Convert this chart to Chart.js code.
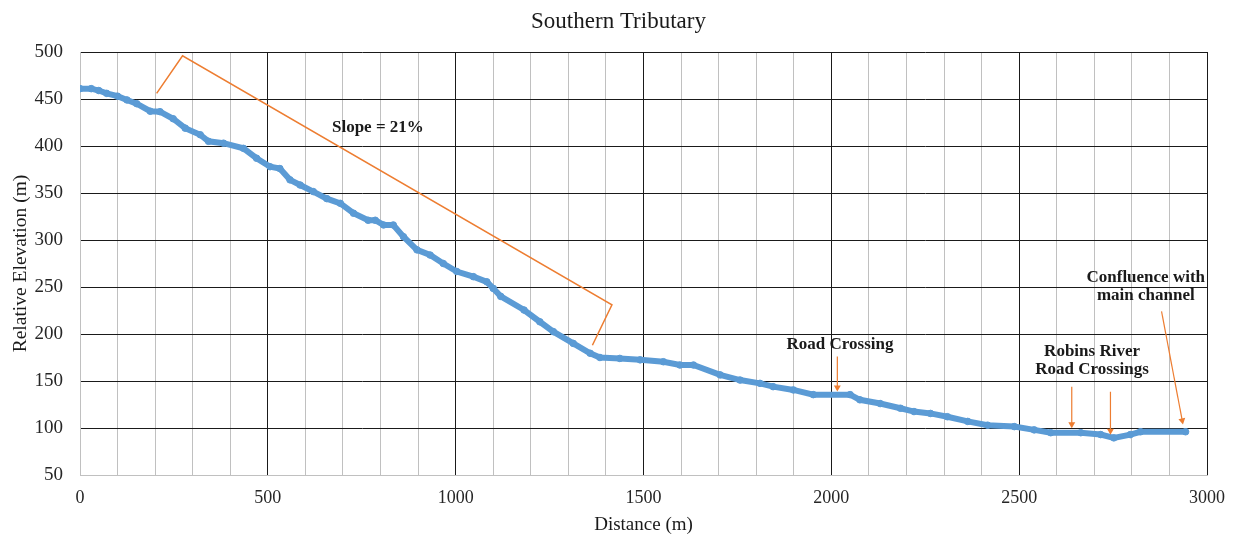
<!DOCTYPE html>
<html><head><meta charset="utf-8">
<script src="https://cdn.jsdelivr.net/npm/chart.js@4"></script>
<style>html,body{margin:0;padding:0;background:#fff}#wrap{width:1237px;height:537px}</style>
</head><body><div id="wrap"><canvas id="c" width="1237" height="537"></canvas></div>
<script>
// Profile data (distance m, relative elevation m)
const distance = [0,30,50,71,100,125,151,187,213,248,280,320,342,382,435,470,506,532,559,586,621,657,693,728,767,786,808,834,861,897,932,967,1003,1047,1083,1100,1120,1182,1224,1260,1313,1358,1384,1437,1491,1553,1597,1633,1704,1757,1810,1845,1899,1952,2050,2076,2130,2184,2220,2264,2309,2363,2416,2487,2540,2584,2664,2717,2752,2796,2823,2943];
const elevation = [461,461,459,456,453,449,445,437,436.5,429,419,412,405,403,397.5,387,378,376,364,358.5,351.5,344,339,328.5,321,321,316,316,303.5,289.5,284,275,266.5,261,255.5,248.5,240,225.5,213,202.5,190,179.5,175,174,172.5,170.5,167,167,156.5,151,147.5,144,140.5,135.5,135.5,130,126,121,117.5,115.5,112,107,103,101.5,98,95,95,93,89.5,93,96,96];

// Annotation geometry in data units
const slopeBracketX = [204,273,1416,1364];
const slopeBracketY = [456,496,231,188];
const arrowRoadX = [2016,2016];   const arrowRoadY = [176,143];
const arrowRobins1X = [2640,2640]; const arrowRobins1Y = [144,104];
const arrowRobins2X = [2743,2743]; const arrowRobins2Y = [138.5,97];
const arrowConflX = [2879,2934];  const arrowConflY = [224,108];

const labelTexts = ["Slope = 21%","Road Crossing","Robins River","Road Crossings","Confluence with","main channel"];
const labelX = [793,2023,2694,2694,2837,2837];
const labelY = [420,189,181,162,260.5,240.5];

const xTicks = [0,500,1000,1500,2000,2500,3000];

const pts = (xs,ys)=>xs.map((x,i)=>({x:x,y:ys[i]}));
const orange = '#ED7D31';
const blue = '#5B9BD5';
const serif = '"Liberation Serif", "Times New Roman", serif';

function arrowDS(xs,ys,rot){
  return {data:pts(xs,ys),showLine:true,borderColor:orange,borderWidth:1.2,
    pointRadius:[0,4],pointStyle:'triangle',pointRotation:[0,rot],
    pointBackgroundColor:orange,pointBorderColor:orange,pointBorderWidth:0};
}

const labelPlugin = {
  id:'labels',
  afterDatasetsDraw(chart){
    const ctx = chart.ctx, xs = chart.scales.x, ys = chart.scales.y;
    ctx.save();
    ctx.fillStyle = '#1a1a1a';
    ctx.font = 'bold 17px ' + serif;
    ctx.textAlign = 'center'; ctx.textBaseline = 'middle';
    labelTexts.forEach((t,i)=>{
      ctx.fillText(t, xs.getPixelForValue(labelX[i]), ys.getPixelForValue(labelY[i]));
    });
    ctx.restore();
  }
};

new Chart(document.getElementById('c'),{
  type:'scatter',
  data:{datasets:[
    {data:pts(slopeBracketX,slopeBracketY),showLine:true,borderColor:orange,borderWidth:1.5,pointRadius:0,tension:0},
    arrowDS(arrowRoadX,arrowRoadY,180),
    arrowDS(arrowRobins1X,arrowRobins1Y,180),
    arrowDS(arrowRobins2X,arrowRobins2Y,180),
    arrowDS(arrowConflX,arrowConflY,169),
    {data:pts(distance,elevation),showLine:true,borderColor:blue,borderWidth:6,
     pointRadius:3.3,pointBackgroundColor:blue,pointBorderColor:blue,pointBorderWidth:1,tension:0}
  ]},
  options:{
    responsive:false,animation:false,
    layout:{padding:{left:0,right:0,top:0,bottom:0}},
    plugins:{
      legend:{display:false},tooltip:{enabled:false},
      title:{display:true,text:'Southern Tributary',color:'#1a1a1a',
        font:{family:serif,size:23,weight:'normal',lineHeight:1.2},
        padding:{top:8,bottom:16.4}}
    },
    scales:{
      x:{type:'linear',min:0,max:3000,
        afterFit(s){s.height=62;},
        ticks:{stepSize:100,autoSkip:false,maxRotation:0,padding:12,color:'#262626',
          font:{family:serif,size:18},
          callback:v=>xTicks.includes(v)?String(v):''},
        grid:{drawTicks:false,lineWidth:1,
          color:c=>(c.tick && c.tick.value%500===0 && c.tick.value!==0)?'#1a1a1a':'#c0c0c0'},
        border:{display:true,color:'#c0c0c0'},
        title:{display:true,text:'Distance (m)',color:'#1a1a1a',
          font:{family:serif,size:19},padding:{top:0,bottom:1}}
      },
      y:{type:'linear',min:50,max:500,
        afterFit(s){s.width=80;},
        ticks:{stepSize:50,padding:17,color:'#262626',
          font:{family:serif,size:19}},
        grid:{drawTicks:false,lineWidth:1,
          color:c=>(c.tick && c.tick.value===50)?'#c0c0c0':'#1a1a1a'},
        border:{display:true,color:'#c0c0c0'},
        title:{display:true,text:'Relative Elevation (m)',color:'#1a1a1a',
          font:{family:serif,size:19.5},padding:{top:9,bottom:0}}
      },
      ySpacer:{type:'linear',position:'right',display:true,min:50,max:500,
        afterFit(s){s.width=30;},
        ticks:{display:false},grid:{display:false,drawOnChartArea:false},border:{display:false}}
    }
  },
  plugins:[labelPlugin]
});
</script></body></html>
